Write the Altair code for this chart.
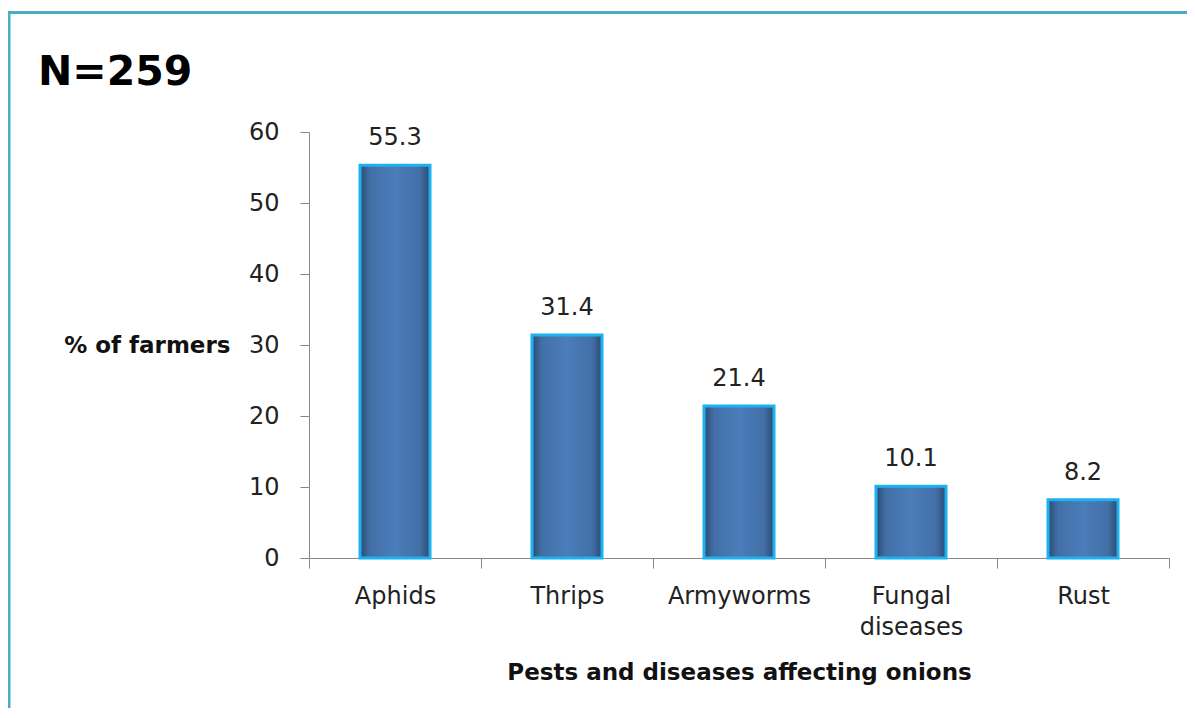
import altair as alt
import pandas as pd

categories = ["Aphids", "Thrips", "Armyworms", "Fungal diseases", "Rust"]
values = [55.3, 31.4, 21.4, 10.1, 8.2]
y_ticks = [0, 10, 20, 30, 40, 50, 60]

df = pd.DataFrame({"cat": categories, "val": values})

W, H = 860, 426
PAD_L, PAD_T, PAD_R, PAD_B = 301, 124, 18, 150

grad = alt.LinearGradient(
    gradient="linear",
    stops=[
        alt.GradientStop(color="#2B4A73", offset=0),
        alt.GradientStop(color="#436FA6", offset=0.14),
        alt.GradientStop(color="#4A7DBA", offset=0.5),
        alt.GradientStop(color="#436FA6", offset=0.86),
        alt.GradientStop(color="#2B4A73", offset=1),
    ],
    x1=0, x2=1, y1=0, y2=0,
)

xenc = alt.X(
    "cat:N",
    sort=categories,
    scale=alt.Scale(paddingInner=0, paddingOuter=0),
    axis=alt.Axis(
        title="Pests and diseases affecting onions",
        titleFont="DejaVu Sans",
        titleFontWeight="bold",
        titleFontSize=23,
        titleColor="#111111",
        titleBaseline="middle",
        titleY=114,
        labelAngle=0,
        labelFont="DejaVu Sans",
        labelFontSize=24,
        labelColor="#222222",
        labelBaseline="top",
        labelPadding=16,
        labelLineHeight=31,
        labelExpr="datum.label == 'Fungal diseases' ? ['Fungal', 'diseases'] : datum.label",
        tickBand="extent",
        tickSize=10,
        tickColor="#888888",
        domainColor="#888888",
        labelFlush=False,
    ),
)

yenc = alt.Y(
    "val:Q",
    scale=alt.Scale(domain=[0, 60], nice=False),
    axis=alt.Axis(
        values=y_ticks,
        title="% of farmers",
        titleAngle=0,
        titleFont="DejaVu Sans",
        titleFontWeight="bold",
        titleFontSize=23,
        titleColor="#111111",
        titleAlign="right",
        titleBaseline="middle",
        titleX=-79,
        titleY=213,
        labelFont="DejaVu Sans",
        labelFontSize=24,
        labelColor="#222222",
        labelPadding=21,
        tickSize=9,
        tickColor="#888888",
        domainColor="#888888",
        grid=False,
    ),
)

bars = alt.Chart(df).mark_bar(
    size=70, fill=grad, stroke="#1CB2EE", strokeWidth=3
).encode(x=xenc, y=yenc)

labels = alt.Chart(df).mark_text(
    font="DejaVu Sans", fontSize=24, color="#222222", baseline="alphabetic", dy=-20
).encode(
    x=alt.X("cat:N", sort=categories),
    y="val:Q",
    text=alt.Text("val:Q", format=".1f"),
)

n_text = alt.Chart(pd.DataFrame({"t": ["N=259"]})).mark_text(
    font="DejaVu Sans", fontWeight="bold", fontSize=41, color="#000000",
    align="left", baseline="alphabetic",
).encode(x=alt.value(-271), y=alt.value(-47), text="t:N")

one = alt.Data(values=[{}])
top_border = alt.Chart(one).mark_rule(color="#4BACC6", strokeWidth=3).encode(
    x=alt.value(-301), x2=alt.value(W + PAD_R), y=alt.value(-119.5)
)
left_border = alt.Chart(one).mark_rule(color="#4BACC6", strokeWidth=3).encode(
    x=alt.value(-300), y=alt.value(-121), y2=alt.value(H + PAD_B)
)

chart = alt.layer(top_border, left_border, bars, labels, n_text).properties(
    width=W,
    height=H,
    autosize=alt.AutoSizeParams(type="none"),
    padding={"left": PAD_L, "top": PAD_T, "right": PAD_R, "bottom": PAD_B},
).configure(background="white").configure_view(stroke=None, strokeWidth=0)

chart.save("out.html", embed_options={"renderer": "svg", "actions": False})
